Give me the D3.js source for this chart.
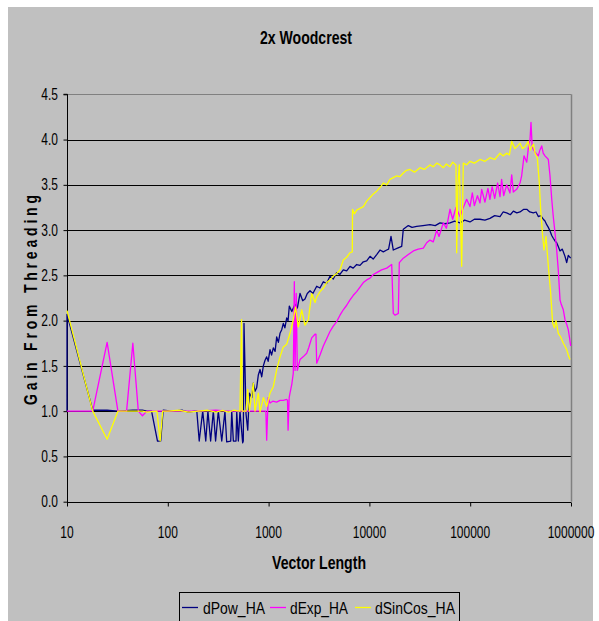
<!DOCTYPE html>
<html>
<head>
<meta charset="utf-8">
<script src="https://cdn.jsdelivr.net/npm/d3@7"></script>
<style>
  html, body { margin: 0; padding: 0; background: #ffffff; }
  svg { display: block; }
  text { font-family: "Liberation Sans", Arial, sans-serif; fill: #000; }
</style>
</head>
<body>
<svg id="chart" width="599" height="621"></svg>
<script>
// ---------------- DATA ----------------
const chartTitle = "2x Woodcrest";
const xTitle = "Vector Length";
const yTitle = "Gain From Threading";
const xTickValues = [10, 100, 1000, 10000, 100000, 1000000];
const xTickLabels = ["10", "100", "1000", "10000", "100000", "1000000"];
const yTickValues = [0, 0.5, 1, 1.5, 2, 2.5, 3, 3.5, 4, 4.5];
const yTickLabels = ["0.0", "0.5", "1.0", "1.5", "2.0", "2.5", "3.0", "3.5", "4.0", "4.5"];
const seriesNames = ["dPow_HA", "dExp_HA", "dSinCos_HA"];
const seriesColors = ["#000080", "#FF00FF", "#FFFF00"];

const dPow = [
  [10,1.0],[10,2.07],[18,1.01],[25,1.01],[32,1.0],[45,1.01],[56,1.01],[62,1.0],[69,1.0],[79,0.67],[85,0.67],[90,1.01],
  [110,1.0],[140,1.01],[160,0.99],[186,1.0],
  [194,1.0],[205,0.67],[222,1.0],[238,0.67],[250,1.0],[266,0.67],[283,1.0],[298,0.67],[317,1.0],[343,0.67],[369,1.0],
  [384,0.66],[421,0.67],[431,1.0],[447,0.67],[475,0.67],[483,1.0],[501,0.67],[520,1.0],[553,0.65],[561,0.67],
  [570,1.97],[597,0.97],[621,0.79],[644,1.2],[680,1.15],[705,1.31],[733,1.22],[762,1.26],[791,1.40],[822,1.46],[855,1.38],
  [887,1.5],[920,1.56],[957,1.60],[990,1.55],[1033,1.68],[1070,1.62],[1114,1.70],[1160,1.66],[1203,1.82],[1250,1.76],
  [1298,1.86],[1350,1.90],[1400,1.97],[1450,1.92],[1513,2.03],[1560,2.00],[1605,2.16],[1700,2.10],[1828,2.18],[1930,2.14],
  [2050,2.30],[2180,2.22],[2296,2.24],[2420,2.30],[2575,2.33],[2750,2.30],[3000,2.38],[3230,2.36],[3490,2.43],[3760,2.41],
  [4063,2.49],[4380,2.46],[4739,2.53],[5100,2.51],[5509,2.56],[5950,2.55],[6424,2.60],[6900,2.58],[7480,2.62],[8066,2.61],
  [8702,2.65],[9400,2.66],[10147,2.71],[10900,2.68],[11813,2.73],[12736,2.78],[13740,2.76],[14856,2.78],[15500,2.79],
  [16379,2.93],[17262,2.78],[19000,2.80],[20913,2.82],[21690,3.01],[24325,3.05],[26500,3.03],[29450,3.04],[34000,3.05],
  [39920,3.06],[45000,3.05],[50150,3.08],[56000,3.07],[63050,3.08],[70000,3.10],[79200,3.08],[88000,3.11],[99500,3.09],
  [110000,3.12],[125000,3.12],[140000,3.11],[157000,3.13],[175000,3.16],[197600,3.15],[212000,3.20],[230000,3.19],
  [250000,3.17],[268000,3.21],[290000,3.19],[312000,3.20],[340000,3.23],[364000,3.23],[390000,3.20],[423000,3.19],
  [450000,3.20],[474000,3.15],[500000,3.16],[531000,3.12],[552000,3.10],[574000,3.06],[596000,3.03],[619000,2.99],
  [644000,2.94],[667000,2.91],[694000,2.88],[721000,2.86],[748000,2.82],[778000,2.77],[820000,2.79],[872000,2.71],
  [906000,2.64],[940000,2.72],[993000,2.69]
];

const dExp = [
  [10,1.0],[18,1.0],[25,1.76],[32,1.0],[39,1.0],[45,1.75],[51,1.0],[56,0.95],[62,1.0],[100,1.0],[150,1.0],[200,1.0],
  [300,1.01],[400,1.0],[500,1.0],[600,1.0],[800,1.0],[940,1.0],[957,0.68],[990,1.15],[1033,1.09],[1100,1.11],
  [1200,1.10],[1300,1.12],[1400,1.12],[1513,1.13],[1540,1.12],[1560,0.79],[1600,1.15],[1630,1.2],[1700,1.30],
  [1758,1.42],[1800,2.43],[1830,1.45],[1880,2.30],[1927,1.45],[2050,1.57],[2200,1.60],[2388,1.64],[2500,1.70],
  [2677,1.81],[2887,1.85],[2950,1.85],[3000,1.53],[3236,1.62],[3490,1.72],[3767,1.80],[4063,1.88],[4383,1.94],
  [4739,1.99],[5108,2.06],[5509,2.12],[5953,2.17],[6424,2.23],[6923,2.28],[7480,2.32],[8066,2.37],[8702,2.42],
  [9400,2.45],[10147,2.47],[10945,2.51],[11813,2.53],[13200,2.56],[14856,2.58],[16640,2.62],[17262,2.08],[18000,2.06],
  [19360,2.08],[19800,2.64],[21690,2.69],[24325,2.73],[27285,2.77],[30500,2.79],[34277,2.80],[37000,2.86],[39920,2.89],
  [43000,2.87],[46550,3.0],[49000,2.93],[54115,3.08],[58000,3.02],[63050,3.23],[67000,3.12],[72300,3.25],[79200,3.15],
  [85400,3.25],[92200,3.34],[99500,3.26],[105000,3.41],[110000,3.27],[118000,3.38],[125000,3.30],[130000,3.45],
  [140000,3.31],[150000,3.46],[157000,3.34],[165000,3.48],[175000,3.35],[187000,3.52],[197600,3.37],[205000,3.56],
  [215000,3.38],[230000,3.50],[248000,3.41],[258000,3.61],[268000,3.42],[289000,3.45],[312000,3.52],[324000,3.60],
  [342000,3.82],[364000,3.75],[377000,3.90],[392000,4.0],[401000,4.19],[412000,3.92],[423000,3.89],[440000,3.86],
  [474000,3.82],[490000,3.88],[512000,3.93],[530000,3.85],[552000,3.82],[575000,3.80],[596000,3.78],[619000,3.60],
  [644000,3.34],[667000,3.15],[694000,2.97],[721000,2.78],[748000,2.56],[778000,2.23],[800000,2.18],[839000,2.12],
  [872000,2.01],[906000,1.96],[940000,1.90],[970000,1.80],[993000,1.72]
];

const dSinCos = [
  [10,2.11],[18,1.0],[25,0.69],[32,1.0],[45,1.0],[56,1.0],[62,0.99],[78,1.0],[84,0.67],[89,1.0],[100,1.0],[130,1.01],
  [160,0.99],[200,1.0],[250,1.01],[300,0.99],[350,1.01],[400,0.99],[450,1.01],[520,1.0],[539,2.01],[548,1.0],
  [597,1.0],[621,1.24],[644,1.0],[705,1.31],[733,1.0],[791,1.2],[822,0.99],[887,1.15],[957,1.05],[1033,1.2],
  [1114,1.27],[1203,1.46],[1298,1.60],[1400,1.71],[1513,1.74],[1630,1.86],[1758,2.01],[1850,2.15],[1972,1.93],
  [2130,2.12],[2296,1.95],[2478,2.01],[2677,2.30],[2887,2.20],[3000,2.26],[3236,2.32],[3500,2.36],[3767,2.42],
  [4063,2.45],[4383,2.49],[4739,2.52],[5108,2.56],[5509,2.67],[5953,2.70],[6424,2.75],[6766,2.76],[6800,3.23],
  [7100,3.18],[7480,3.22],[8066,3.24],[8702,3.26],[9400,3.32],[10147,3.36],[10945,3.40],[11813,3.43],[12736,3.47],
  [13740,3.52],[14856,3.50],[16003,3.56],[17262,3.58],[18664,3.60],[20000,3.59],[21690,3.63],[23300,3.66],
  [25290,3.67],[28000,3.64],[31760,3.69],[35000,3.67],[39920,3.72],[43000,3.70],[46550,3.74],[50150,3.72],
  [54115,3.69],[58000,3.73],[63050,3.70],[67000,3.75],[72300,3.72],[73450,2.75],[75500,3.50],[78000,3.72],
  [82300,2.60],[85400,3.74],[92200,3.72],[99500,3.76],[110000,3.74],[125000,3.78],[140000,3.76],[157000,3.80],
  [175000,3.78],[197600,3.85],[212000,3.82],[230000,3.85],[245000,3.83],[258000,3.98],[278000,3.90],[295000,3.93],
  [312000,3.96],[330000,3.90],[350000,3.92],[377000,3.98],[392000,3.88],[408000,3.92],[425000,3.95],[440000,3.85],
  [463000,3.80],[485000,3.52],[500000,3.23],[524000,2.93],[540000,2.78],[565000,2.93],[596000,2.60],[629000,2.30],
  [644000,2.12],[658000,1.97],[685000,1.92],[710000,2.00],[748000,1.86],[790000,1.82],[839000,1.75],[870000,1.72],
  [906000,1.68],[940000,1.62],[977000,1.57]
];

const allSeries = [dPow, dExp, dSinCos];

// ---------------- LAYOUT ----------------
const svg = d3.select("#chart");
const plot = { left: 67, right: 571, top: 94.3, bottom: 501.7 };
const stretch = 1.3;

const x = d3.scaleLog().domain([10, 1000000]).range([plot.left, plot.right]);
const y = d3.scaleLinear().domain([0, 4.5]).range([plot.bottom, plot.top]);

// chart area background
svg.append("rect").attr("x", 8).attr("y", 7).attr("width", 585).attr("height", 620)
  .attr("fill", "#C0C0C0");

// plot area
svg.append("rect").attr("x", plot.left).attr("y", plot.top)
  .attr("width", plot.right - plot.left).attr("height", plot.bottom - plot.top)
  .attr("fill", "#C0C0C0");

// gridlines
svg.append("g").selectAll("line").data(yTickValues.filter(v => v > 0)).join("line")
  .attr("x1", plot.left).attr("x2", plot.right)
  .attr("y1", d => Math.round(y(d)) + 0.5).attr("y2", d => Math.round(y(d)) + 0.5)
  .attr("stroke", (d, i, n) => d === 4.5 ? "#808080" : "#000").attr("stroke-width", 1);

// right border of plot area
svg.append("line").attr("x1", plot.right + 0.5).attr("x2", plot.right + 0.5)
  .attr("y1", plot.top).attr("y2", plot.bottom).attr("stroke", "#808080").attr("stroke-width", 1.5);

// axes
const yAxis = d3.axisLeft(y).tickValues(yTickValues).tickSize(4).tickFormat("");
const xAxis = d3.axisBottom(x).tickValues(xTickValues).tickSize(4).tickFormat("");
const gy = svg.append("g").attr("transform", `translate(${plot.left + 0.5},0)`).call(yAxis);
const gx = svg.append("g").attr("transform", `translate(0,${Math.round(plot.bottom) + 0.5})`).call(xAxis);
[gy, gx].forEach(g => {
  g.selectAll("path").attr("stroke", "#000").attr("stroke-width", 1);
  g.selectAll("line").attr("stroke", "#000").attr("stroke-width", 1);
});
gy.select(".domain").attr("d", `M-4,${plot.top}H0V${Math.round(plot.bottom)}`);
gx.select(".domain").attr("d", `M${plot.left},0H${plot.right}`);

// helper for tall-narrow text
function stext(px, py, str, opts) {
  const t = svg.append("text")
    .attr("transform", `translate(${px},${py})${opts.rotate ? " rotate(" + opts.rotate + ")" : ""} scale(1,${stretch})`)
    .attr("text-anchor", opts.anchor || "middle")
    .attr("font-size", opts.size || 12)
    .attr("font-weight", opts.bold ? "bold" : "normal")
    .text(str);
  if (opts.len) t.attr("textLength", opts.len).attr("lengthAdjust", opts.adjust || "spacingAndGlyphs");
  return t;
}

// tick labels
yTickValues.forEach((v, i) => stext(58, y(v) + 5.6, yTickLabels[i], { anchor: "end", size: 12 }));
xTickValues.forEach((v, i) => stext(x(v), 537.5, xTickLabels[i], { anchor: "middle", size: 12 }));

// titles
stext(306, 44, chartTitle, { size: 14, bold: true, len: 92 });
stext(319, 569, xTitle, { size: 14, bold: true, len: 94 });
stext(37, 300, yTitle, { size: 14, bold: true, rotate: -90, len: 210, adjust: "spacing" });

// lines
const line = d3.line().x(d => x(d[0])).y(d => y(d[1]));
svg.append("g").selectAll("path").data(allSeries).join("path")
  .attr("d", line)
  .attr("fill", "none")
  .attr("stroke", (d, i) => seriesColors[i])
  .attr("stroke-width", 1.3)
  .attr("stroke-linejoin", "round");

// legend
const lg = svg.append("g");
lg.append("rect").attr("x", 179.5).attr("y", 592.5).attr("width", 280).attr("height", 40)
  .attr("fill", "#C0C0C0").attr("stroke", "#000").attr("stroke-width", 1);
const legendItems = [
  { lx: 182, tx: 203 },
  { lx: 270, tx: 290 },
  { lx: 355, tx: 375 }
];
legendItems.forEach((it, i) => {
  lg.append("line").attr("x1", it.lx).attr("x2", it.lx + 16).attr("y1", 607.5).attr("y2", 607.5)
    .attr("stroke", seriesColors[i]).attr("stroke-width", 1.3);
  stext(it.tx, 614, seriesNames[i], { anchor: "start", size: 12, len: [62, 58, 80][i] });
});
</script>
</body>
</html>
